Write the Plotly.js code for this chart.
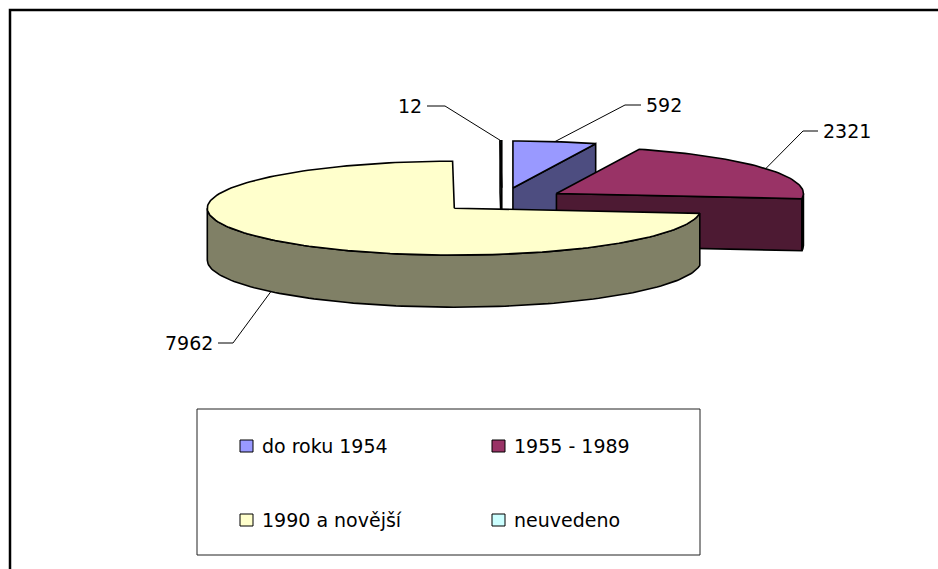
<!DOCTYPE html>
<html><head><meta charset="utf-8">
<script src="https://cdn.plot.ly/plotly-3.0.1.min.js"></script>
<style>html,body{margin:0;padding:0;background:#fff}#chart{width:938px;height:569px}</style>
</head><body><div id="chart"></div>
<script>
// ---- data ----
const categories = ["do roku 1954", "1955 - 1989", "1990 a novější", "neuvedeno"];
const values = [592, 2321, 7962, 12];
const topColors = ["#9999FF", "#993366", "#FFFFCC", "#CCFFFF"];
const sideColors = ["#4D4D80", "#4D1A33", "#808066", "#668080"];

// ---- layout / style constants (pixel space of the axes) ----
const CX = 502, CY = 200, RX = 247, RY = 47, H = 52, EXPLODE = 0.26;
const FONT = "DejaVu Sans, Arial, sans-serif";
const FS = 19;
// label elbow / text anchor per slice
const labelLayout = [
  {ex: 625, ey: 105, tx: 641, side: "left"},
  {ex: 803, ey: 131, tx: 818, side: "left"},
  {ex: 233, ey: 343, tx: 218, side: "right"},
  {ex: 445, ey: 106, tx: 427, side: "right"}
];
const anchorOnBottom = [false, false, true, false];
const legendCols = [240, 492];
const legendRows = [446, 520];

const total = values.reduce((a, b) => a + b, 0);
let acc = 0;
const slices = values.map((v, i) => {
  const a0 = acc / total * 360; acc += v;
  const a1 = acc / total * 360;
  const m = (a0 + a1) / 2, rad = m * Math.PI / 180;
  return {i, a0, a1, m,
    sx: CX + EXPLODE * RX * Math.sin(rad),
    sy: CY - EXPLODE * RY * Math.cos(rad)};
});

function pt(s, deg, z) {
  const r = deg * Math.PI / 180;
  return [s.sx + RX * Math.sin(r), s.sy - RY * Math.cos(r) + z];
}
function arc(s, d0, d1, z) {
  const n = Math.max(2, Math.ceil(Math.abs(d1 - d0) / 1.5));
  const p = [];
  for (let k = 0; k <= n; k++) p.push(pt(s, d0 + (d1 - d0) * k / n, z));
  return p;
}
function poly(points, color) {
  const pts = points.concat([points[0]]);
  return {type: "scatter", mode: "lines", x: pts.map(p => p[0]), y: pts.map(p => p[1]),
    fill: "toself", fillcolor: color, line: {color: "#000", width: 1.6},
    hoverinfo: "skip", showlegend: false};
}

const traces = [];
const order = slices.slice().sort((a, b) => a.sy - b.sy);
order.forEach(s => {
  const c0 = [s.sx, s.sy], c1 = [s.sx, s.sy + H];
  if (Math.sin(s.a1 * Math.PI / 180) > 0.001)
    traces.push(poly([c0, pt(s, s.a1, 0), pt(s, s.a1, H), c1], sideColors[s.i]));
  if (Math.sin(s.a0 * Math.PI / 180) < -0.001)
    traces.push(poly([c0, pt(s, s.a0, 0), pt(s, s.a0, H), c1], sideColors[s.i]));
  const t0 = Math.max(s.a0, 90), t1 = Math.min(s.a1, 270);
  if (t1 > t0) {
    traces.push(poly(arc(s, t0, t1, 0).concat(arc(s, t0, t1, H).reverse()), sideColors[s.i]));
  }
  traces.push(poly([c0].concat(arc(s, s.a0, s.a1, 0)), topColors[s.i]));
});

// leader lines + labels
const annotations = [];
slices.forEach(s => {
  const L = labelLayout[s.i];
  const a = pt(s, s.m, anchorOnBottom[s.i] ? H : 0);
  traces.push({type: "scatter", mode: "lines", x: [a[0], L.ex, L.tx], y: [a[1], L.ey, L.ey],
    line: {color: "#000", width: 1}, hoverinfo: "skip", showlegend: false});
  annotations.push({xref: "x", yref: "y", x: L.side === "left" ? L.tx + 3 : L.tx - 3, y: L.ey,
    text: String(values[s.i]), showarrow: false,
    xanchor: L.side, yanchor: "middle", font: {family: FONT, size: FS, color: "#000"}});
});

// legend (manual, Excel-like)
const shapes = [
  {type: "rect", xref: "x", yref: "y", x0: 10, y0: 10, x1: 960, y1: 600,
   line: {color: "#000", width: 2.5}, fillcolor: "rgba(0,0,0,0)", layer: "below"},
  {type: "rect", xref: "x", yref: "y", x0: 197, y0: 409, x1: 700, y1: 555,
   line: {color: "#222", width: 1}, fillcolor: "rgba(0,0,0,0)"}
];
categories.forEach((c, i) => {
  const cx = legendCols[i % 2], cy = legendRows[Math.floor(i / 2)];
  shapes.push({type: "rect", xref: "x", yref: "y", x0: cx, x1: cx + 13, y0: cy - 6, y1: cy + 6,
    line: {color: "#000", width: 1}, fillcolor: topColors[i]});
  annotations.push({xref: "x", yref: "y", x: cx + 20, y: cy, text: c, showarrow: false,
    xanchor: "left", yanchor: "middle", font: {family: FONT, size: FS, color: "#000"}});
});

const layout = {
  width: 938, height: 569, autosize: false,
  margin: {l: 0, r: 0, t: 0, b: 0},
  paper_bgcolor: "#fff", plot_bgcolor: "#fff",
  xaxis: {range: [0, 938], visible: false, fixedrange: true},
  yaxis: {range: [569, 0], visible: false, fixedrange: true},
  showlegend: false, shapes, annotations
};
Plotly.newPlot("chart", traces, layout, {staticPlot: true});
</script>
</body></html>
